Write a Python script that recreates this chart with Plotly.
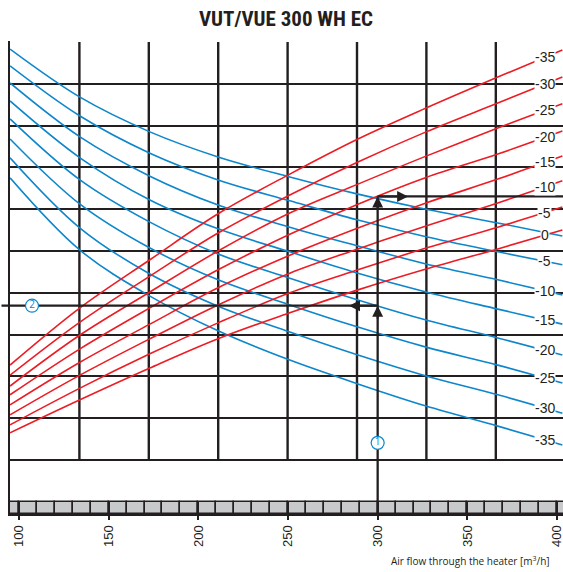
import numpy as np
import plotly.graph_objects as go

# ---------------- data ----------------
# air-flow sample points (m3/h) at which the curves were read
flow_samples = [95, 134, 173, 211, 251, 289, 327, 367, 403]

# blue family (outdoor temperature), in nomogram grid units (rows 0..10)
blue_temps = [0, -5, -10, -15, -20, -25, -30, -35]
blue_0   = [9.83, 8.68, 7.85, 7.25, 6.77, 6.36, 6.00, 5.67, 5.36]
blue_m5  = [9.43, 8.23, 7.34, 6.70, 6.20, 5.74, 5.34, 4.98, 4.67]
blue_m10 = [9.02, 7.73, 6.79, 6.10, 5.57, 5.12, 4.69, 4.31, 3.95]
blue_m15 = [8.59, 7.23, 6.22, 5.53, 4.98, 4.47, 4.02, 3.61, 3.25]
blue_m20 = [8.16, 6.70, 5.69, 4.93, 4.35, 3.83, 3.35, 2.92, 2.51]
blue_m25 = [7.68, 6.12, 5.07, 4.31, 3.71, 3.18, 2.70, 2.27, 1.84]
blue_m30 = [7.23, 5.55, 4.45, 3.68, 3.06, 2.51, 2.01, 1.56, 1.12]
blue_m35 = [6.75, 5.02, 3.92, 3.09, 2.39, 1.82, 1.29, 0.81, 0.36]
blue_curves = [blue_0, blue_m5, blue_m10, blue_m15, blue_m20, blue_m25, blue_m30, blue_m35]

# red family (temperature after the heater), same units
red_temps = [-35, -30, -25, -20, -15, -10, -5, 0]
red_m35 = [2.27, 3.64, 4.79, 5.89, 6.84, 7.68, 8.42, 9.16, 9.81]
red_m30 = [2.03, 3.30, 4.40, 5.43, 6.34, 7.13, 7.85, 8.54, 9.16]
red_m25 = [1.77, 2.99, 4.02, 5.00, 5.91, 6.60, 7.27, 7.94, 8.52]
red_m20 = [1.56, 2.66, 3.64, 4.55, 5.40, 6.12, 6.76, 7.32, 7.87]
red_m15 = [1.32, 2.34, 3.25, 4.12, 4.90, 5.55, 6.15, 6.72, 7.27]
red_m10 = [1.08, 2.03, 2.90, 3.71, 4.47, 5.05, 5.60, 6.15, 6.68]
red_m5  = [0.84, 1.72, 2.54, 3.28, 4.00, 4.55, 5.07, 5.57, 6.05]
red_0   = [0.65, 1.44, 2.20, 2.90, 3.52, 4.07, 4.57, 5.05, 5.50]
red_curves = [red_m35, red_m30, red_m25, red_m20, red_m15, red_m10, red_m5, red_0]

tick_flows = [100, 150, 200, 250, 300, 350, 400]
scale_cells = list(range(95, 410, 10))   # centres of the 10 m3/h cells of the scale bar

example_flow = 300     # worked example (1)
example_temp = -20
label_flow = 393.3     # where the curve labels sit

# ---------------- layout constants ----------------
X_MIN, X_MAX = 94.98, 403.35
Y_MIN, Y_MAX = -1.292, 10.024
SCALE_TOP = -1.005
GRID_STEP = 38.7
DARK = "#231f20"
RED = "#ed1c24"
BLUE = "#0d86cb"

fig = go.Figure()

for temp, ys in zip(blue_temps, blue_curves):
    fig.add_trace(go.Scatter(x=flow_samples, y=ys, mode="lines",
                             line=dict(color=BLUE, width=1.6, shape="spline"),
                             name=f"{temp}", showlegend=False, hoverinfo="skip"))
for temp, ys in zip(red_temps, red_curves):
    fig.add_trace(go.Scatter(x=flow_samples, y=ys, mode="lines",
                             line=dict(color=RED, width=1.6, shape="spline"),
                             name=f"{temp}", showlegend=False, hoverinfo="skip"))

# worked example path
y_top = float(np.interp(example_flow, flow_samples, red_curves[red_temps.index(example_temp)]))
y_mid = float(np.interp(example_flow, flow_samples, blue_curves[blue_temps.index(example_temp)]))
px_per_unit = 553 / (X_MAX - X_MIN)
path_style = dict(color=DARK, width=2.3)
fig.add_trace(go.Scatter(x=[example_flow, example_flow], y=[SCALE_TOP, y_top], mode="lines",
                         line=path_style, showlegend=False, hoverinfo="skip"))
fig.add_trace(go.Scatter(x=[example_flow, X_MAX], y=[y_top, y_top], mode="lines",
                         line=path_style, showlegend=False, hoverinfo="skip"))
fig.add_trace(go.Scatter(x=[example_flow, X_MIN], y=[y_mid, y_mid], mode="lines",
                         line=path_style, showlegend=False, hoverinfo="skip"))

# call-out circles (1) and (2)
callout_flow = [example_flow, X_MIN + 22 / px_per_unit]
callout_y = [0.41, y_mid]
fig.add_trace(go.Scatter(x=callout_flow, y=callout_y, mode="markers+text",
                         text=["1", "2"], textposition="middle center",
                         textfont=dict(family="Open Sans", size=10, color=BLUE),
                         marker=dict(size=13, color="white", line=dict(color=BLUE, width=1.2)),
                         showlegend=False, hoverinfo="skip"))

# scale bar at the bottom
fig.add_trace(go.Bar(x=scale_cells, y=[SCALE_TOP - Y_MIN] * len(scale_cells), base=Y_MIN,
                     width=10, marker=dict(color="#c8c9cb", line=dict(color=DARK, width=1.5)),
                     xaxis="x3", yaxis="y", showlegend=False, hoverinfo="skip"))

# vertical nomogram grid
shapes = []
for i in range(1, 8):
    gx = X_MIN + i * GRID_STEP
    shapes.append(dict(type="line", xref="x", yref="y", x0=gx, x1=gx, y0=0, y1=10,
                       line=dict(color=DARK, width=2.4), layer="below"))

annotations = []
# curve labels
label_font = dict(family="Liberation Sans, Arial", size=14, color=DARK)
for temp, ys in zip(red_temps, red_curves):
    annotations.append(dict(x=label_flow, y=float(np.interp(label_flow, flow_samples, ys)),
                            xref="x", yref="y", text=str(temp), showarrow=False,
                            font=label_font, bgcolor="white", borderpad=0))
for temp, ys in zip(blue_temps, blue_curves):
    if temp == 0:
        continue
    annotations.append(dict(x=label_flow, y=float(np.interp(label_flow, flow_samples, ys)),
                            xref="x", yref="y", text=str(temp), showarrow=False,
                            font=label_font, bgcolor="white", borderpad=0))

# arrow heads
head = dict(text="", showarrow=True, arrowhead=2, arrowsize=1.1, arrowwidth=2,
            arrowcolor=DARK, xref="x", yref="y", axref="x", ayref="y")
annotations.append(dict(head, x=example_flow, y=y_mid, ax=example_flow, ay=y_mid - 0.35))
annotations.append(dict(head, x=example_flow, y=y_top, ax=example_flow, ay=y_top - 0.35))
annotations.append(dict(head, x=example_flow + 17, y=y_top, ax=example_flow, ay=y_top))
annotations.append(dict(head, x=example_flow - 16, y=y_mid, ax=example_flow, ay=y_mid))
# left line continues past the frame
annotations.append(dict(text="", showarrow=True, arrowhead=0, arrowwidth=2.3, arrowcolor=DARK,
                        xref="x", yref="y", axref="x", ayref="y",
                        x=X_MIN, y=y_mid, ax=X_MIN - 10 / px_per_unit, ay=y_mid))

# axis title
annotations.append(dict(text="Air flow through the heater [m<sup>3</sup>/h]",
                        xref="paper", yref="paper", x=(389 - 10) / 553, y=(514 - 561) / 473,
                        xanchor="left", yanchor="middle", showarrow=False,
                        font=dict(family="Open Sans", size=10, color=DARK)))

fig.update_layout(
    width=563, height=572,
    margin=dict(l=10, r=0, t=41, b=58),
    paper_bgcolor="white", plot_bgcolor="white",
    showlegend=False,
    bargap=0,
    title=dict(text="<b>VUT/VUE 300 WH EC</b>", x=286 / 563, xanchor="center",
               y=1 - 18.5 / 572, yanchor="middle", xref="container", yref="container",
               font=dict(family="Liberation Sans Narrow, Roboto Condensed, Roboto", size=21,
                         color=DARK)),
    xaxis=dict(range=[X_MIN, X_MAX], showgrid=False, zeroline=False,
               showline=True, linecolor=DARK, linewidth=2,
               ticks="outside", ticklen=4, tickwidth=2, tickcolor=DARK,
               tickvals=tick_flows, tickangle=-90, ticklabeloverflow="allow",
               tickfont=dict(family="Liberation Sans, Arial", size=13, color=DARK),
               automargin=False),
    xaxis3=dict(range=[X_MIN, X_MAX], overlaying="x", anchor="y", showgrid=False,
                zeroline=False, showline=False, ticks="inside", ticklen=12, tickwidth=2,
                tickcolor=DARK, tickvals=tick_flows, showticklabels=False, automargin=False),
    yaxis=dict(range=[Y_MIN, Y_MAX], showgrid=True, gridcolor=DARK, gridwidth=1.6,
               tickmode="array", tickvals=list(range(0, 11)), showticklabels=False,
               ticks="", zeroline=False, showline=True, linecolor=DARK, linewidth=2,
               automargin=False),
    shapes=shapes,
    annotations=annotations,
)

fig.write_html("out.html", config={"displayModeBar": False},
               post_script="document.body.style.margin='0';document.body.style.overflow='hidden';")
